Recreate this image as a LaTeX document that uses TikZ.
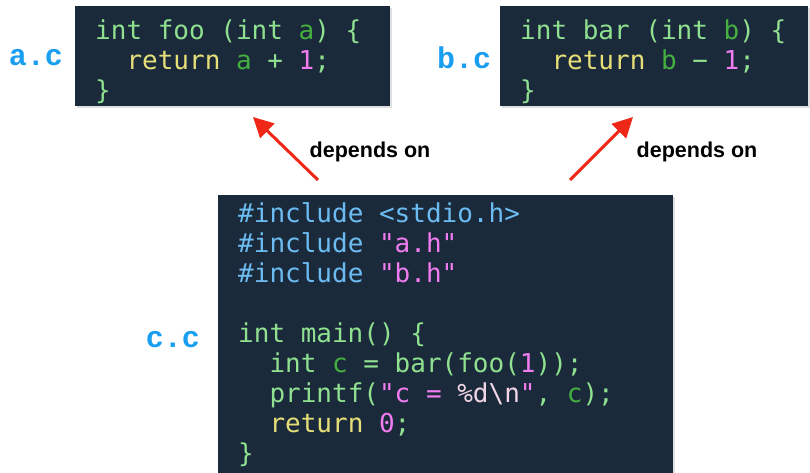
\documentclass[tikz,border=0pt]{standalone}
\usepackage{fontspec}
\setmonofont{DejaVu Sans Mono}
\setsansfont{Liberation Sans}
\newfontfamily\filefont{Liberation Mono}
\usetikzlibrary{positioning, arrows.meta, shadows}
\usepackage{xcolor}

\definecolor{codebg}{HTML}{1A2A3B}
\definecolor{codegreen}{HTML}{8FE08F}
\definecolor{codevar}{HTML}{45B040}
\definecolor{coderet}{HTML}{E6DF78}
\definecolor{codenum}{HTML}{F07CF0}
\definecolor{codeinc}{HTML}{6CBCF2}
\definecolor{codeesc}{HTML}{F2D6E6}
\definecolor{fileblue}{HTML}{1A9EF0}
\definecolor{deparrow}{HTML}{EE2716}

\newcommand{\tokvar}[1]{\textcolor{codevar}{#1}}
\newcommand{\tokret}[1]{\textcolor{coderet}{#1}}
\newcommand{\toknum}[1]{\textcolor{codenum}{#1}}
\newcommand{\tokinc}[1]{\textcolor{codeinc}{#1}}
\newcommand{\tokesc}[1]{\textcolor{codeesc}{#1}}

\begin{document}
\begin{tikzpicture}[x=1pt, y=-1pt,
    code/.style={anchor=north west, fill=codebg, text=codegreen, align=left,
      font=\ttfamily\fontsize{26}{30}\selectfont, inner xsep=20pt, inner ysep=0pt,
      execute at begin node={\spaceskip=15.65pt\relax},
      drop shadow={shadow xshift=2pt, shadow yshift=-2pt, opacity=0.25}},
    file/.style={text=fileblue, font=\filefont\bfseries\fontsize{30}{30}\selectfont},
    note/.style={font=\sffamily\bfseries\fontsize{21.5}{21.5}\selectfont},
    dep/.style={deparrow, line width=3pt, -{Triangle[length=20pt, width=20pt]}}]
    \useasboundingbox (0,0) rectangle (810,473);
    % Ficheiros de cabeçalho
    \node[code, text width=275pt, minimum height=100pt, text height=30pt] (fooc) at (75,6)
      {int foo (int \tokvar{a}) \{\\
       \phantom{xx}\tokret{return} \tokvar{a} + \toknum{1};\\
       \}};
    \node[code, text width=268pt, minimum height=100pt, text height=30pt] (barc) at (500,6)
      {int bar (int \tokvar{b}) \{\\
       \phantom{xx}\tokret{return} \tokvar{b} \symbol{"2212} \toknum{1};\\
       \}};
    % Programa principal
    \node[code, text width=415pt, minimum height=278pt] (mainc) at (218,195)
      {\tokinc{\#include <stdio.h>}\\
       \tokinc{\#include} \toknum{"a.h"}\\
       \tokinc{\#include} \toknum{"b.h"}\\[30pt]
       int main() \{\\
       \phantom{xx}int \tokvar{c} = bar(foo(\toknum{1}));\\
       \phantom{xx}printf(\toknum{"c = }\tokesc{\%d\textbackslash n}\toknum{"}, \tokvar{c});\\
       \phantom{xx}\tokret{return} \toknum{0};\\
       \}};
    % Nomes dos ficheiros
    \node[file] (alabel) at (36,58) {a.c};
    \node[file] (blabel) at (464,58) {b.c};
    \node[file] (clabel) at (173,340) {c.c};
    % Dependências
    \coordinate (atail) at (318,180);
    \coordinate (ahead) at (253,117);
    \coordinate (btail) at (570,180);
    \coordinate (bhead) at (633,117);
    \draw[dep] (atail) -- (ahead);
    \draw[dep] (btail) -- (bhead);
    \node[note] (anote) at (370,152) {depends on};
    \node[note] (bnote) at (697,152) {depends on};
\end{tikzpicture}
\end{document}
